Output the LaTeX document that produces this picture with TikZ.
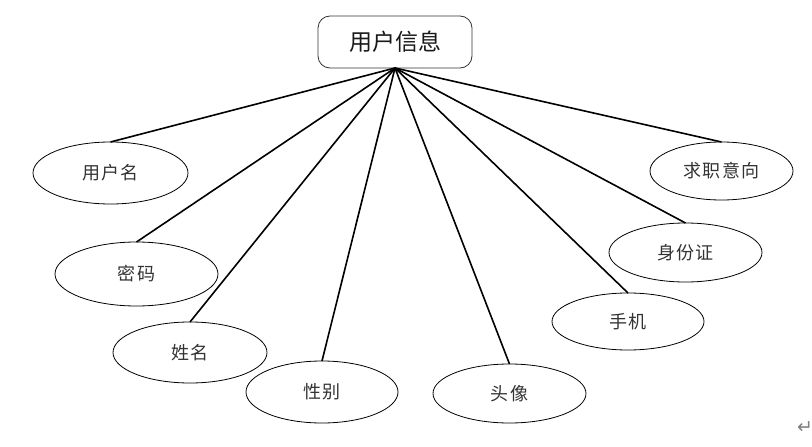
\documentclass[tikz,border=0pt]{standalone}
\usepackage{fontspec}
\newfontfamily\cjk{Noto Sans CJK SC}
\newfontfamily\cjkspaced[LetterSpace=6]{Noto Sans CJK SC}
\newfontfamily\dejavu{DejaVu Sans}
\usetikzlibrary{shapes.geometric}
\begin{document}
\begin{tikzpicture}[x=1pt,y=-1pt,
  attr/.style={ellipse, draw=black, line width=0.8pt, inner sep=0pt, outer sep=0pt,
    font=\cjkspaced\fontsize{18}{18}\selectfont, text=black!80},
  conn/.style={line width=1.6pt, black},
  entity/.style={draw=black!80, line width=0.8pt, rounded corners=12pt, inner sep=0pt, outer sep=0pt,
    minimum width=154pt, minimum height=52pt, font=\cjk\fontsize{23}{23}\selectfont, text=black!90}]
\useasboundingbox (0,0) rectangle (812,447);
\fill[white] (0,0) rectangle (812,447);
\node[entity] (top) at (395,42) {用户信息};
\node[attr, minimum width=155pt, minimum height=62pt] (u) at (110.5,173) {用户名};
\node[attr, minimum width=163pt, minimum height=64pt] (m) at (136.5,274) {密码};
\node[attr, minimum width=154pt, minimum height=61pt] (x) at (190,352.5) {姓名};
\node[attr, minimum width=152pt, minimum height=62pt] (s) at (322,392) {性别};
\node[attr, minimum width=153pt, minimum height=59pt] (t) at (509.5,393.5) {头像};
\node[attr, minimum width=152pt, minimum height=57pt] (p) at (628,321.5) {手机};
\node[attr, minimum width=153pt, minimum height=59pt] (i) at (685.5,252.5) {身份证};
\node[attr, minimum width=143pt, minimum height=58pt] (q) at (721.5,171) {求职意向};
\foreach \n in {u,m,x,s,t,p,i,q} \draw[conn] (top.south) -- (\n.north);
\node[text=black!50, font=\dejavu\fontsize{19}{19}\selectfont, inner sep=0pt] (ret) at (805,428) {↵};
\end{tikzpicture}
\end{document}
